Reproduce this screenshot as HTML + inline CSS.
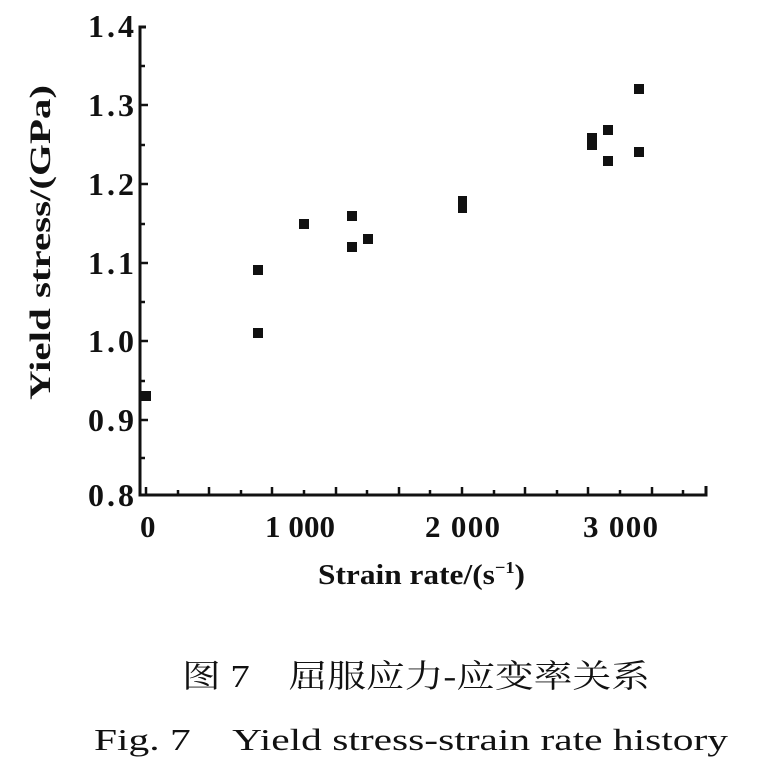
<!DOCTYPE html>
<html><head><meta charset="utf-8"><style>
html,body{margin:0;padding:0;background:#fff;width:776px;height:782px;overflow:hidden}
</style></head><body>
<svg width="776" height="782" viewBox="0 0 776 782" xmlns="http://www.w3.org/2000/svg" font-family="'Liberation Serif', serif">
<g stroke="#111" stroke-width="3" fill="none">
<path d="M146 27 L140 27 L140 495 L706 495 L706 486"/>
</g>
<g stroke="#111" stroke-width="2.5">
<line x1="140" y1="105" x2="148" y2="105"/><line x1="140" y1="184" x2="148" y2="184"/>
<line x1="140" y1="263" x2="148" y2="263"/><line x1="140" y1="341" x2="148" y2="341"/>
<line x1="140" y1="420" x2="148" y2="420"/>
<line x1="140" y1="66" x2="145" y2="66"/><line x1="140" y1="145" x2="145" y2="145"/>
<line x1="140" y1="224" x2="145" y2="224"/><line x1="140" y1="302" x2="145" y2="302"/>
<line x1="140" y1="381" x2="145" y2="381"/><line x1="140" y1="458" x2="145" y2="458"/>
<line x1="146" y1="495" x2="146" y2="487"/><line x1="178" y1="495" x2="178" y2="490"/>
<line x1="209" y1="495" x2="209" y2="487"/><line x1="241" y1="495" x2="241" y2="490"/>
<line x1="272" y1="495" x2="272" y2="487"/><line x1="304" y1="495" x2="304" y2="490"/>
<line x1="336" y1="495" x2="336" y2="487"/><line x1="367" y1="495" x2="367" y2="490"/>
<line x1="399" y1="495" x2="399" y2="487"/><line x1="430" y1="495" x2="430" y2="490"/>
<line x1="462" y1="495" x2="462" y2="487"/><line x1="494" y1="495" x2="494" y2="490"/>
<line x1="525" y1="495" x2="525" y2="487"/><line x1="557" y1="495" x2="557" y2="490"/>
<line x1="588" y1="495" x2="588" y2="487"/><line x1="620" y1="495" x2="620" y2="490"/>
<line x1="652" y1="495" x2="652" y2="487"/><line x1="683" y1="495" x2="683" y2="490"/>
</g>
<g font-size="32" font-weight="bold" fill="#111" text-anchor="end">
<text x="134" y="37" textLength="46">1.4</text><text x="134" y="116" textLength="46">1.3</text><text x="134" y="195" textLength="46">1.2</text>
<text x="134" y="274" textLength="46">1.1</text><text x="134" y="352" textLength="46">1.0</text><text x="134" y="431" textLength="46">0.9</text>
<text x="134" y="506" textLength="46">0.8</text>
</g>
<g font-size="31" font-weight="bold" fill="#111">
<text x="140" y="537">0</text>
<text x="265" y="537" textLength="70">1 000</text>
<text x="425" y="537" textLength="75">2 000</text>
<text x="583" y="537" textLength="75">3 000</text>
<text x="318" y="584" font-size="29" textLength="207" lengthAdjust="spacingAndGlyphs">Strain rate/(s<tspan font-size="17" dy="-11">−1</tspan><tspan dy="11">)</tspan></text>
<text transform="translate(50,400) rotate(-90)" font-size="30" textLength="315" lengthAdjust="spacingAndGlyphs">Yield stress/(GPa)</text>
</g>
<g fill="#111">
<rect x="141" y="391" width="10" height="10"/>
<rect x="253" y="265" width="10" height="10"/><rect x="253" y="328" width="10" height="10"/>
<rect x="299" y="219" width="10" height="10"/><rect x="347" y="211" width="10" height="10"/>
<rect x="347" y="242" width="10" height="10"/><rect x="363" y="234" width="10" height="10"/>
<rect x="458" y="196" width="9" height="10"/><rect x="458" y="203" width="9" height="10"/>
<rect x="587" y="133" width="10" height="10"/><rect x="587" y="140" width="10" height="10"/>
<rect x="603" y="125" width="10" height="10"/><rect x="603" y="156" width="10" height="10"/>
<rect x="634" y="84" width="10" height="10"/><rect x="634" y="147" width="10" height="10"/>
</g>
<text x="182" y="687" font-size="32" fill="#111" textLength="468" lengthAdjust="spacingAndGlyphs" font-family="'Liberation Serif','Noto Serif CJK SC',serif">图 7　屈服应力-应变率关系</text>
<text x="94" y="750" font-size="31" fill="#111" textLength="634" lengthAdjust="spacingAndGlyphs">Fig. 7　Yield stress-strain rate history</text>
</svg>
</body></html>
